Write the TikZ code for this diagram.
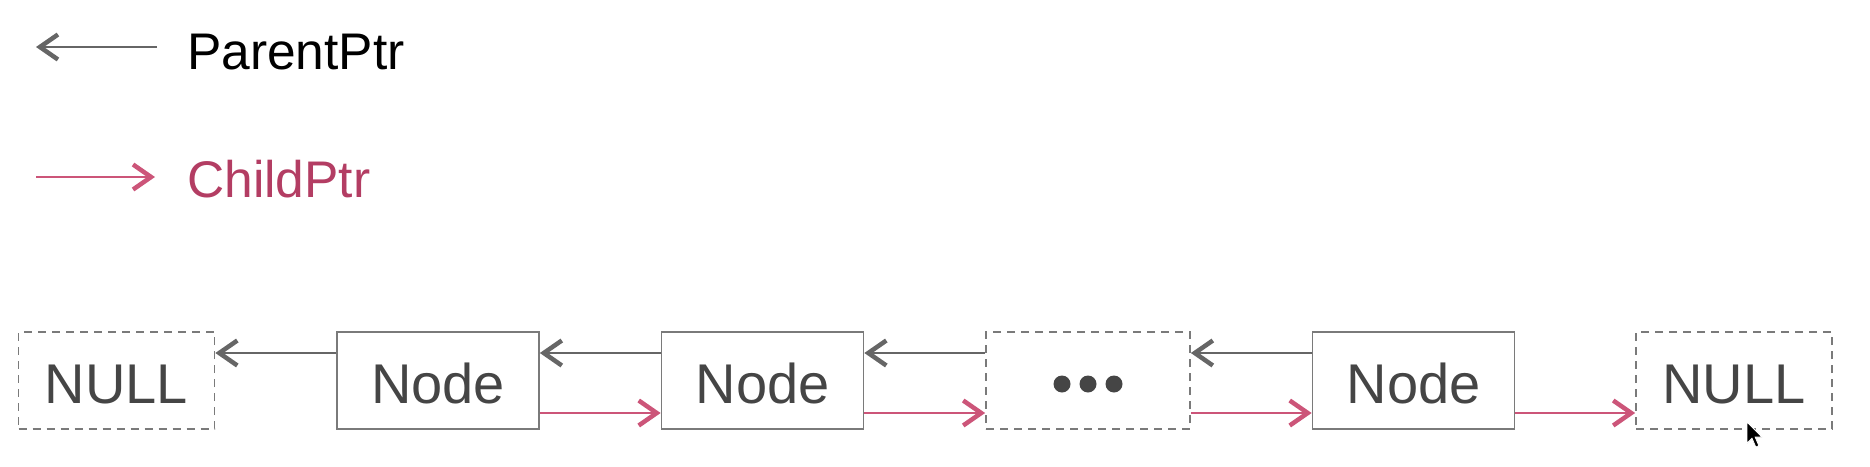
\documentclass[tikz,border=0pt]{standalone}
\usepackage{fontspec}
\setmainfont{Liberation Sans}
\usetikzlibrary{arrows.meta}
\definecolor{boxgray}{HTML}{7A7A7A}
\definecolor{arrgray}{HTML}{666666}
\definecolor{pinkarr}{HTML}{CC5579}
\definecolor{pinktxt}{HTML}{B33D63}
\definecolor{nodetxt}{HTML}{454545}
\begin{document}
\begin{tikzpicture}[x=1pt,y=-1pt,
  box/.style={draw=boxgray,line width=1.7pt,minimum height=97pt,inner sep=0pt,
    text=nodetxt,font=\fontsize{56}{60}\selectfont,text height=45pt,text depth=0pt},
  solidbox/.style={box,minimum width=202pt},
  nullbox/.style={box,dashed,dash pattern=on 8pt off 6pt,minimum width=196pt},
  parentarrow/.style={draw=arrgray,line width=2pt,-{Straight Barb[length=18pt,width=25pt,line width=4.5pt]}},
  childarrow/.style={draw=pinkarr,line width=2pt,-{Straight Barb[length=18pt,width=25pt,line width=4.5pt]}},
  legendtext/.style={font=\fontsize{51.5}{60}\selectfont,anchor=base west,inner sep=0pt}]
\useasboundingbox (0,0) rectangle (1870,466);
% legend
\coordinate (pa) at (157,47);
\coordinate (pb) at (36,47);
\coordinate (ca) at (36,177);
\coordinate (cb) at (155,177);
\draw[parentarrow] (pa) -- (pb);
\draw[childarrow] (ca) -- (cb);
\node[legendtext,text=black] (lp) at (187,69) {ParentPtr};
\node[legendtext,text=pinktxt] (lc) at (187,197) {ChildPtr};
% chain
\node[nullbox] (null1) at (116.5,380.5) {NULL};
\node[solidbox] (n1) at (438,380.5) {Node};
\node[solidbox] (n2) at (762.5,380.5) {Node};
\node[nullbox,minimum width=204pt] (dots) at (1088,380.5) {};
\node[solidbox] (n4) at (1413.5,380.5) {Node};
\node[nullbox] (null2) at (1734,380.5) {NULL};
\foreach \dx in {-26,0,26}
  \fill[nodetxt] ([xshift=\dx pt,yshift=-3.5pt]dots.center) circle (8.5pt);
% parent pointers
\foreach \a/\b in {n1/null1,n2/n1,dots/n2,n4/dots}
  \draw[parentarrow] ([yshift=27.5pt]\a.west) -- ([yshift=27.5pt]\b.east);
% child pointers
\foreach \a/\b in {n1/n2,n2/dots,dots/n4,n4/null2}
  \draw[childarrow] ([yshift=-32.5pt]\a.east) -- ([yshift=-32.5pt]\b.west);
% mouse cursor
\filldraw[fill=black,draw=white,line width=0.8pt,shift={(1747,422)},scale=1.25]
  (0,0) -- (0,17) -- (4,13) -- (7,20) -- (9.5,19) -- (6.5,12) -- (12,12) -- cycle;
\end{tikzpicture}
\end{document}
